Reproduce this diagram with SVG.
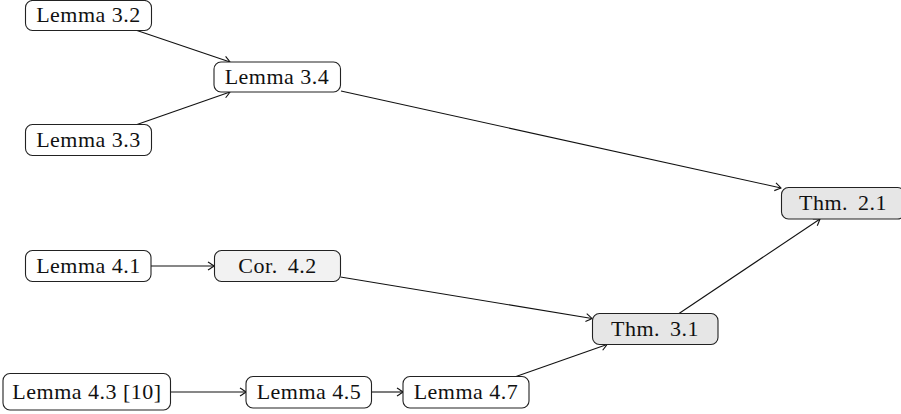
<svg xmlns="http://www.w3.org/2000/svg" width="901" height="414" viewBox="0 0 901 414">
<style>
.box{fill:#ffffff;stroke:#222;stroke-width:1.1}
.thm{fill:#e6e6e6}
.cor{fill:#f2f2f2}
text{font-family:"Liberation Serif","Times New Roman",serif;font-size:22px;letter-spacing:0.5px;fill:#111;text-anchor:middle}
.ws{word-spacing:4px}
.edge{fill:none;stroke:#111;stroke-width:1.1;marker-end:url(#arr)}
</style>
<defs>
<marker id="arr" markerUnits="userSpaceOnUse" markerWidth="12" markerHeight="12" viewBox="-8 -6 10 12" refX="0" refY="0" orient="auto">
<path d="M -6,-4 Q -1.5,-1.2 0,0 Q -1.5,1.2 -6,4" fill="none" stroke="#111" stroke-width="1.1"/>
</marker>
</defs>
<g id="edges">
<line class="edge" x1="137" y1="30.5" x2="230" y2="62"/>
<line class="edge" x1="137" y1="124.5" x2="230" y2="92"/>
<line class="edge" x1="341" y1="91" x2="781" y2="188"/>
<line class="edge" x1="679" y1="313.5" x2="820" y2="219"/>
<line class="edge" x1="151" y1="266" x2="214" y2="266"/>
<line class="edge" x1="340.5" y1="277" x2="592" y2="318.5"/>
<line class="edge" x1="170.5" y1="392" x2="246" y2="392"/>
<line class="edge" x1="371.5" y1="392" x2="403" y2="392"/>
<line class="edge" x1="516" y1="376.5" x2="607" y2="344.5"/>
</g>
<g id="lemma32"><rect class="box" x="25.5" y="0.5" width="126" height="30" rx="7"/><text x="88.5" y="22">Lemma 3.2</text></g>
<g id="lemma34"><rect class="box" x="214" y="62" width="126.5" height="30" rx="7"/><text x="277" y="84">Lemma 3.4</text></g>
<g id="lemma33"><rect class="box" x="25.5" y="124.5" width="126" height="31" rx="7"/><text x="88.5" y="146.5">Lemma 3.3</text></g>
<g id="thm21"><rect class="box thm" x="781.5" y="187.5" width="123" height="31.5" rx="7"/><text class="ws" x="843" y="210">Thm. 2.1</text></g>
<g id="lemma41"><rect class="box" x="25.5" y="250.5" width="125.5" height="31" rx="7"/><text x="88.5" y="273">Lemma 4.1</text></g>
<g id="cor42"><rect class="box cor" x="214.5" y="250.5" width="126" height="31" rx="7"/><text class="ws" x="277.5" y="273">Cor. 4.2</text></g>
<g id="thm31"><rect class="box thm" x="592.5" y="313.5" width="125.5" height="31" rx="7"/><text class="ws" x="655" y="336">Thm. 3.1</text></g>
<g id="lemma43"><rect class="box" x="3" y="373.5" width="167.5" height="36.5" rx="7"/><text x="87" y="398.5">Lemma 4.3 [10]</text></g>
<g id="lemma45"><rect class="box" x="246" y="376.5" width="125.5" height="31.5" rx="7"/><text x="309" y="399">Lemma 4.5</text></g>
<g id="lemma47"><rect class="box" x="403" y="376.5" width="126" height="31.5" rx="7"/><text x="466" y="399">Lemma 4.7</text></g>
</svg>
